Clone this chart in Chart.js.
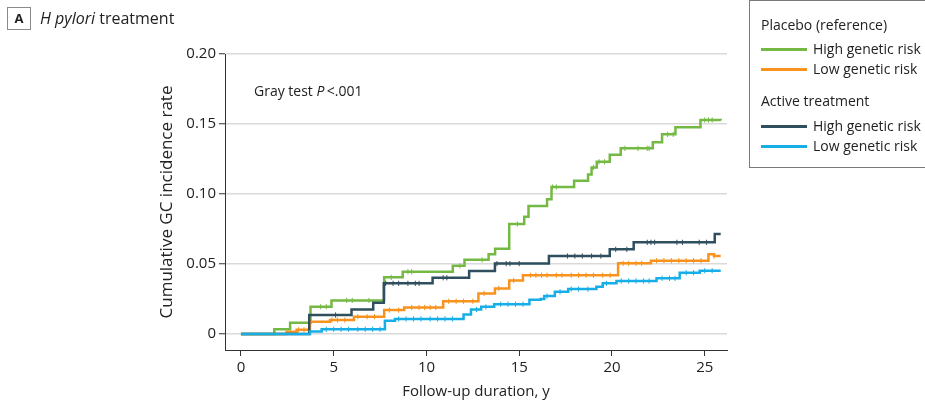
<!DOCTYPE html>
<html>
<head>
<meta charset="utf-8">
<script src="https://cdn.jsdelivr.net/npm/chart.js@4.4.0/dist/chart.umd.min.js"></script>
<style>
  html, body { margin: 0; padding: 0; background: #fff; }
  body { width: 925px; height: 406px; position: relative; overflow: hidden; font-family: "Open Sans", sans-serif; color: #222; }
  #chartBox { position: absolute; left: 0; top: 0; width: 925px; height: 406px; }
  .panel { position: absolute; left: 7px; top: 7px; height: 23px; font-size: 16px; line-height: 23px; white-space: nowrap; }
  .panel .tag { display: inline-block; box-sizing: border-box; width: 24px; height: 23px; border: 1px solid #8a8a8a; text-align: center; font-weight: bold; font-size: 13px; line-height: 21px; margin-right: 9px; vertical-align: top; }
  .gray { position: absolute; left: 254px; top: 81px; font-size: 14px; line-height: 20px; white-space: nowrap; }
  #legend { position: absolute; left: 749px; top: 0px; width: 200px; height: 168px; box-sizing: border-box; border: 1px solid #7a7a7a; }
  #legend .row { position: absolute; left: 11px; height: 20px; line-height: 20px; font-size: 14px; white-space: nowrap; }
  #legend .swatch { display: inline-block; width: 46px; height: 2.5px; vertical-align: middle; margin-right: 6px; position: relative; top: -1px; }
</style>
</head>
<body>
<div id="chartBox"><canvas id="chart" width="925" height="406"></canvas></div>
<div class="panel"><span class="tag">A</span><i>H pylori</i> treatment</div>
<div class="gray">Gray test <i>P</i>&thinsp;&lt;.001</div>
<div id="legend"></div>
<script>
// follow-up time (y) at each step and the cumulative incidence after it
const placeboHighT = [0, 1.8, 2.65, 3.75, 4.88, 7.72, 8.72, 11.42, 12.05, 13.35, 13.7, 14.46, 15.27, 15.5, 16.5, 16.74, 17.96, 18.71, 18.9, 19.18, 19.88, 20.47, 22.2, 22.7, 23.42, 24.77, 25.86];
const placeboHighV = [0, 0.0035, 0.008, 0.0195, 0.024, 0.0405, 0.0445, 0.0487, 0.053, 0.0569, 0.061, 0.0786, 0.0838, 0.0914, 0.0962, 0.105, 0.1095, 0.114, 0.119, 0.123, 0.128, 0.1326, 0.137, 0.1426, 0.1476, 0.1529, 0.1525];

const placeboLowT = [0, 2.46, 3.0, 3.72, 4.8, 6.09, 7.72, 8.8, 10.9, 12.8, 13.69, 14.46, 15.2, 20.33, 22.1, 25.2, 25.5, 25.86];
const placeboLowV = [0, 0.0017, 0.003, 0.0088, 0.01, 0.0124, 0.0171, 0.019, 0.0234, 0.029, 0.0326, 0.0382, 0.042, 0.0505, 0.0524, 0.0569, 0.0557, 0.0557];

const activeHighT = [0, 3.68, 5.96, 7.13, 7.7, 10.33, 12.3, 13.69, 16.6, 19.88, 21.17, 25.54, 25.86];
const activeHighV = [0, 0.0136, 0.0176, 0.0224, 0.0362, 0.0402, 0.045, 0.0503, 0.0557, 0.0605, 0.0655, 0.0714, 0.0714];

const activeLowT = [0, 3.72, 4.35, 7.76, 8.3, 12.0, 12.4, 12.95, 13.65, 15.55, 16.15, 16.35, 16.92, 17.64, 19.16, 19.5, 20.24, 22.4, 23.65, 24.73, 25.86];
const activeLowV = [0, 0.0018, 0.0034, 0.0095, 0.0108, 0.014, 0.0175, 0.0194, 0.0213, 0.0245, 0.025, 0.0271, 0.0302, 0.0321, 0.0338, 0.0362, 0.0379, 0.0398, 0.0438, 0.0452, 0.0452];

// censoring marks (times)
const placeboHighCens = [4.3, 4.6, 5.7, 6.0, 6.9, 8.1, 9.0, 9.2, 11.8, 13.0, 14.9, 16.8, 17.0, 19.0, 19.3, 19.6, 20.7, 21.4, 21.9, 22.0, 23.0, 23.3, 25.0, 25.2, 25.4];
const placeboLowCens = [3.1, 3.4, 4.9, 5.2, 5.6, 6.3, 6.8, 7.2, 8.0, 8.5, 9.2, 9.6, 9.9, 10.2, 10.5, 11.2, 11.6, 12.0, 12.5, 13.1, 13.9, 14.7, 15.6, 15.9, 16.2, 16.5, 17.0, 17.3, 17.8, 18.2, 18.6, 19.0, 19.5, 19.9, 20.6, 20.9, 21.3, 21.6, 22.4, 22.8, 23.2, 23.6, 24.0, 24.4, 24.8, 25.5];
const activeHighCens = [5.1, 7.8, 8.2, 8.5, 9.0, 9.4, 9.6, 10.9, 11.1, 13.8, 14.3, 14.5, 15.0, 17.6, 18.0, 18.4, 18.9, 19.4, 20.2, 20.8, 21.9, 22.1, 22.3, 23.5, 23.8, 24.7, 25.1];
const activeLowCens = [4.6, 5.0, 5.4, 5.8, 6.3, 6.7, 7.1, 7.5, 8.5, 8.9, 9.3, 9.7, 10.2, 10.6, 11.0, 11.4, 12.7, 13.2, 14.0, 14.4, 14.8, 15.2, 16.5, 17.2, 17.8, 18.2, 18.7, 19.7, 20.5, 20.9, 21.3, 21.7, 22.0, 22.7, 23.1, 23.4, 24.0, 24.4, 25.0, 25.4];

const xTicks = [0, 5, 10, 15, 20, 25];
const yTicks = [0, 0.05, 0.10, 0.15, 0.20];
const yTickLabels = ["0", "0.05", "0.10", "0.15", "0.20"];

const groups = ["Placebo (reference)", "Active treatment"];
const riskLabels = ["High genetic risk", "Low genetic risk"];

const green = "#74b944", orange = "#f7931e", dark = "#2f4f5e", blue = "#17aee8";

const series = [
  { group: 0, risk: 0, color: green, t: placeboHighT, v: placeboHighV, cens: placeboHighCens, order: 4 },
  { group: 0, risk: 1, color: orange, t: placeboLowT, v: placeboLowV, cens: placeboLowCens, order: 3 },
  { group: 1, risk: 0, color: dark, t: activeHighT, v: activeHighV, cens: activeHighCens, order: 2 },
  { group: 1, risk: 1, color: blue, t: activeLowT, v: activeLowV, cens: activeLowCens, order: 1 }
];

function stepAt(ts, vs, x) {
  let y = vs[0];
  for (let i = 0; i < ts.length; i++) { if (ts[i] <= x) y = vs[i]; }
  return y;
}

const datasets = [];
series.forEach(s => {
  datasets.push({
    type: "line",
    data: s.t.map((t, i) => ({ x: t, y: s.v[i] })),
    borderColor: s.color,
    borderWidth: 2.5,
    stepped: "before",
    pointRadius: 0,
    fill: false,
    order: s.order + 4
  });
  datasets.push({
    type: "scatter",
    data: s.cens.map(t => ({ x: t, y: stepAt(s.t, s.v, t) })),
    borderColor: s.color,
    backgroundColor: s.color,
    pointStyle: "line",
    rotation: 90,
    pointRadius: 2.6,
    borderWidth: 1,
    order: s.order
  });
});

new Chart(document.getElementById("chart"), {
  type: "line",
  data: { datasets },
  options: {
    responsive: false,
    animation: false,
    layout: { padding: { left: 150, top: 54, right: 198, bottom: 0 } },
    plugins: { legend: { display: false }, tooltip: { enabled: false } },
    scales: {
      x: {
        type: "linear",
        min: -0.86,
        max: 26.2,
        afterBuildTicks: scale => { scale.ticks = xTicks.map(v => ({ value: v })); },
        afterFit: scale => { scale.height = 56; },
        grid: { drawOnChartArea: false, drawTicks: true, tickLength: 6, tickColor: "#333", tickWidth: 1 },
        border: { display: true, color: "#333", width: 1 },
        ticks: { color: "#222", font: { family: "Open Sans", size: 15 }, padding: 3, maxRotation: 0 },
        title: { display: true, text: "Follow-up duration, y", color: "#222", font: { family: "Open Sans", size: 15 }, padding: { top: 0, bottom: 5 } }
      },
      y: {
        type: "linear",
        min: -0.0114,
        max: 0.20,
        afterBuildTicks: scale => { scale.ticks = yTicks.map(v => ({ value: v })); },
        afterFit: scale => { scale.width = 75; },
        grid: { color: "#dadada", lineWidth: 1.5, drawTicks: true, tickLength: 6, tickColor: "#333", tickWidth: 1 },
        border: { display: true, color: "#333", width: 1 },
        ticks: {
          color: "#222",
          font: { family: "Open Sans", size: 15 },
          padding: 3,
          callback: (v) => { const i = yTicks.findIndex(t => Math.abs(t - v) < 1e-9); return i >= 0 ? yTickLabels[i] : ""; }
        },
        title: { display: true, text: "Cumulative GC incidence rate", color: "#222", font: { family: "Open Sans", size: 17 }, padding: { top: 7, bottom: 0 } }
      }
    }
  }
});

// legend built from the series list
const legend = document.getElementById("legend");
const headTops = [14, 90];
const itemTops = [[38, 58], [115, 135]];
groups.forEach((g, gi) => {
  const h = document.createElement("div");
  h.className = "row";
  h.style.top = headTops[gi] + "px";
  h.textContent = g;
  legend.appendChild(h);
  series.filter(s => s.group === gi).forEach(s => {
    const r = document.createElement("div");
    r.className = "row";
    r.style.top = itemTops[gi][s.risk] + "px";
    r.innerHTML = `<span class="swatch" style="background:${s.color}"></span>${riskLabels[s.risk]}`;
    legend.appendChild(r);
  });
});
</script>
</body>
</html>
